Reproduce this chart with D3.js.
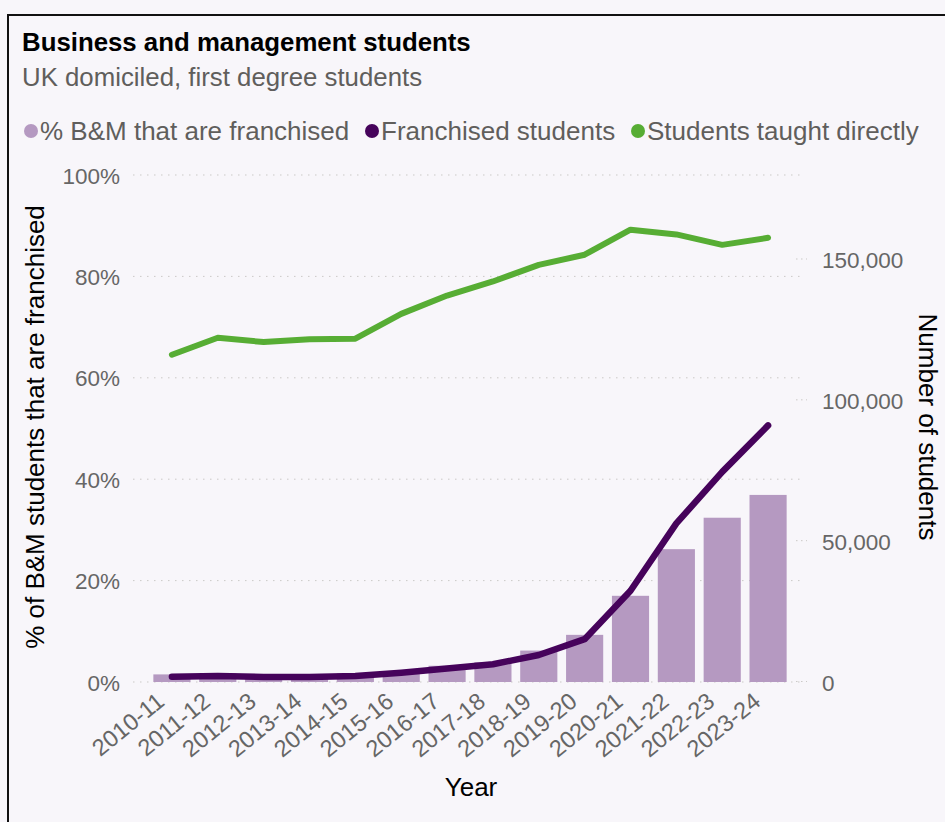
<!DOCTYPE html>
<html>
<head>
<meta charset="utf-8">
<script src="https://cdn.jsdelivr.net/npm/d3@7"></script>
<style>
  html, body { margin: 0; padding: 0; background: #f8f6fa; }
  svg { display: block; font-family: "Liberation Sans", Arial, sans-serif; }
</style>
</head>
<body>
<svg id="chart" width="945" height="822"></svg>
<script>
// Academic years on the category axis
const years = ["2010-11","2011-12","2012-13","2013-14","2014-15","2015-16","2016-17",
  "2017-18","2018-19","2019-20","2020-21","2021-22","2022-23","2023-24"];
// Share of business & management students who are franchised (%)
const pctFranchised = [1.5, 1.7, 1.5, 1.5, 1.7, 2.0, 3.2, 3.9, 6.2, 9.3, 17.0, 26.2, 32.4, 36.9];
// Franchised students (headcount)
const franchised = [1900, 2100, 1800, 1800, 2100, 3300, 4800, 6300, 9600, 15200, 32400, 56300, 74600, 91100];
// Students taught directly (headcount)
const taughtDirect = [116200, 122200, 120700, 121700, 121900, 130700, 137200, 142200, 148100, 151700, 160600, 158900, 155200, 157700];
// Axis ticks
const leftTicks = [0, 20, 40, 60, 80, 100];
const rightTicks = [0, 50000, 100000, 150000];

const colBar = "#b599c1", colFr = "#46035b", colDir = "#57ad34";
const gridCol = "#cbc9c7", tickCol = "#666666";
const FONT = "Liberation Sans, Arial, sans-serif";

const svg = d3.select("#chart");

// card frame
svg.append("rect").attr("x", 8).attr("y", 15).attr("width", 960).attr("height", 840)
  .attr("fill", "#f8f6fa").attr("stroke", "#111").attr("stroke-width", 2);

// titles
svg.append("text").attr("x", 22).attr("y", 51).attr("font-size", 25.8).attr("font-weight", "bold")
  .attr("fill", "#000").text("Business and management students");
svg.append("text").attr("x", 22).attr("y", 86).attr("font-size", 25.8)
  .attr("fill", "#605e5c").text("UK domiciled, first degree students");

// legend
const legendItems = [
  { label: "% B&M that are franchised", color: colBar, x: 31 },
  { label: "Franchised students", color: colFr, x: 372 },
  { label: "Students taught directly", color: colDir, x: 638 }
];
const lg = svg.append("g");
legendItems.forEach(d => {
  lg.append("circle").attr("cx", d.x).attr("cy", 131).attr("r", 7).attr("fill", d.color);
  lg.append("text").attr("x", d.x + 9).attr("y", 140).attr("font-size", 26)
    .attr("fill", "#605e5c").text(d.label);
});

// scales
const x = d3.scaleBand().domain(years).range([149, 791]).paddingInner(0.19).paddingOuter(0.095);
const yL = d3.scaleLinear().domain([0, 100]).range([682, 175]);
const yR = d3.scaleLinear().domain([0, 180000]).range([682, 175]);

// gridlines (left axis)
const grid = svg.append("g");
grid.selectAll("line.gl").data(leftTicks).join("line")
  .attr("x1", 133).attr("x2", 801)
  .attr("y1", d => yL(d)).attr("y2", d => yL(d))
  .attr("stroke", gridCol).attr("stroke-width", 1).attr("stroke-dasharray", "1.5,5.5");
// short right-axis tick marks
grid.selectAll("line.gr").data(rightTicks).join("line")
  .attr("x1", 796).attr("x2", 807)
  .attr("y1", d => yR(d) - 0.5).attr("y2", d => yR(d) - 0.5)
  .attr("stroke", gridCol).attr("stroke-width", 1).attr("stroke-dasharray", "1.5,3.5");

// left axis
const axL = svg.append("g").attr("transform", "translate(120,0)")
  .call(d3.axisLeft(yL).tickValues(leftTicks).tickSize(0).tickPadding(0).tickFormat(d => d + "%"));
axL.select(".domain").remove();
axL.selectAll("text").attr("font-size", 22.5).attr("fill", tickCol).attr("font-family", FONT).attr("dy", "0.36em");

// right axis
const axR = svg.append("g").attr("transform", "translate(822,0)")
  .call(d3.axisRight(yR).tickValues(rightTicks).tickSize(0).tickPadding(0).tickFormat(d3.format(",")));
axR.select(".domain").remove();
axR.selectAll("text").attr("font-size", 22.5).attr("fill", tickCol).attr("font-family", FONT).attr("dy", "0.36em");

// bars
svg.append("g").selectAll("rect").data(years).join("rect")
  .attr("x", d => x(d)).attr("width", x.bandwidth())
  .attr("y", (d, i) => yL(pctFranchised[i]))
  .attr("height", (d, i) => yL(0) - yL(pctFranchised[i]))
  .attr("fill", colBar);

// lines
const cx = d => x(d) + x.bandwidth() / 2;
const lineGen = d3.line().x((d, i) => cx(years[i])).y(d => yR(d));
svg.append("path").datum(taughtDirect).attr("d", lineGen)
  .attr("fill", "none").attr("stroke", colDir).attr("stroke-width", 6)
  .attr("stroke-linecap", "round").attr("stroke-linejoin", "round");
svg.append("path").datum(franchised).attr("d", lineGen)
  .attr("fill", "none").attr("stroke", colFr).attr("stroke-width", 6.5)
  .attr("stroke-linecap", "round").attr("stroke-linejoin", "round");

// x tick labels
const axX = svg.append("g").attr("transform", "translate(0,682)")
  .call(d3.axisBottom(x).tickSize(0).tickPadding(0));
axX.select(".domain").remove();
axX.selectAll(".tick text")
  .attr("font-size", 23.5).attr("fill", tickCol).attr("font-family", FONT)
  .attr("text-anchor", "end").attr("dy", 0).attr("y", 0)
  .attr("transform", "translate(-6,22) rotate(-39)");

// axis titles
svg.append("text").attr("x", 471).attr("y", 796).attr("text-anchor", "middle")
  .attr("font-size", 26).attr("fill", "#000").text("Year");
svg.append("text").attr("transform", "translate(44,427) rotate(-90)").attr("text-anchor", "middle")
  .attr("font-size", 26).attr("fill", "#000").text("% of B&M students that are franchised");
svg.append("text").attr("transform", "translate(919,427) rotate(90)").attr("text-anchor", "middle")
  .attr("font-size", 26).attr("fill", "#000").text("Number of students");
</script>
</body>
</html>
